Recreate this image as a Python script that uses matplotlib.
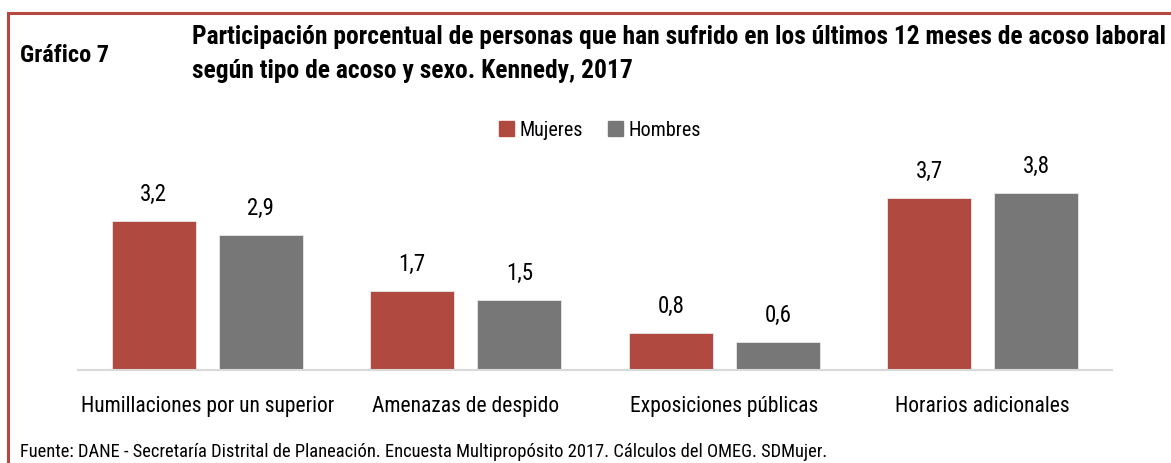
import matplotlib
matplotlib.use("Agg")
import matplotlib.pyplot as plt
from matplotlib import font_manager
from matplotlib.lines import Line2D
from matplotlib.patches import Patch
import numpy as np

categorias = ["Humillaciones por un superior", "Amenazas de despido",
              "Exposiciones públicas", "Horarios adicionales"]
mujeres = [3.2, 1.7, 0.8, 3.7]
hombres = [2.9, 1.5, 0.6, 3.8]
series = ["Mujeres", "Hombres"]

titulo1 = "Participación porcentual de personas que han sufrido en los últimos 12 meses de acoso laboral"
titulo2 = "según tipo de acoso y sexo. Kennedy, 2017"
etiqueta = "Gráfico 7"
fuente = "Fuente: DANE - Secretaría Distrital de Planeación. Encuesta Multipropósito 2017. Cálculos del OMEG. SDMujer."

# pick a narrow font if there is one
disponibles = {f.name for f in font_manager.fontManager.ttflist}
familia = "DejaVu Sans"
for nombre in ["Liberation Sans Narrow", "Roboto Condensed", "Open Sans Condensed", "DejaVu Sans Condensed"]:
    if nombre in disponibles:
        familia = nombre
        break
plt.rcParams["font.family"] = [familia, "DejaVu Sans"]

rojo = "#B04A41"
gris = "#777777"
borde = "#B5493F"

W, H = 1171, 463
fig = plt.figure(figsize=(W / 100, H / 100), dpi=100)

# plot area in pixels
x0, x1 = 78, 1112
base = 370
alto = 220
escala = 46.5  # px per unit
ax = fig.add_axes([x0 / W, (H - base) / H, (x1 - x0) / W, alto / H])

x = np.arange(len(categorias))
ancho = 0.325
b1 = ax.bar(x - 0.207, mujeres, ancho, color=rojo, edgecolor="#E8E8E8", linewidth=0.6)
b2 = ax.bar(x + 0.207, hombres, ancho, color=gris, edgecolor="#E8E8E8", linewidth=0.6)

for barras, vals in [(b1, mujeres), (b2, hombres)]:
    for r, v in zip(barras, vals):
        ax.annotate(f"{v:.1f}".replace(".", ","),
                    (r.get_x() + r.get_width() / 2, v),
                    xytext=(0, 11), textcoords="offset points",
                    ha="center", va="bottom", fontsize=16.5, color="black")

ax.set_xlim(-0.5, len(categorias) - 0.5)
ax.set_ylim(0, alto / escala)
ax.set_xticks(x)
ax.set_xticklabels(categorias, fontsize=15.5)
ax.tick_params(axis="x", length=0, pad=19)
ax.set_yticks([])
for s in ["top", "right", "left"]:
    ax.spines[s].set_visible(False)
ax.spines["bottom"].set_color("#D9D9D9")
ax.spines["bottom"].set_linewidth(1.5)

fig.legend(handles=[Patch(color=rojo, label=series[0]), Patch(color=gris, label=series[1])],
           loc="center", bbox_to_anchor=(600 / W, 1 - 130 / H), ncol=2, frameon=False,
           fontsize=14.5, handlelength=0.75, handleheight=0.75, handletextpad=0.3,
           columnspacing=1.2)

fig.text(20 / W, 1 - 62 / H, etiqueta, fontsize=17.5, fontweight="bold", va="baseline", ha="left")
fig.text(192 / W, 1 - 44 / H, titulo1, fontsize=18.4, fontweight="bold", va="baseline", ha="left")
fig.text(192 / W, 1 - 78 / H, titulo2, fontsize=18.4, fontweight="bold", va="baseline", ha="left")
fig.text(20 / W, 1 - 452 / H, fuente, fontsize=13.3, va="center", ha="left")

# red frame
fig.add_artist(Line2D([8 / W, 1], [1 - 13 / H, 1 - 13 / H], color=borde, lw=2.2,
                      transform=fig.transFigure))
fig.add_artist(Line2D([8 / W, 8 / W], [0, 1 - 13 / H], color=borde, lw=2.2,
                      transform=fig.transFigure))

fig.savefig("out.png", dpi=100)
